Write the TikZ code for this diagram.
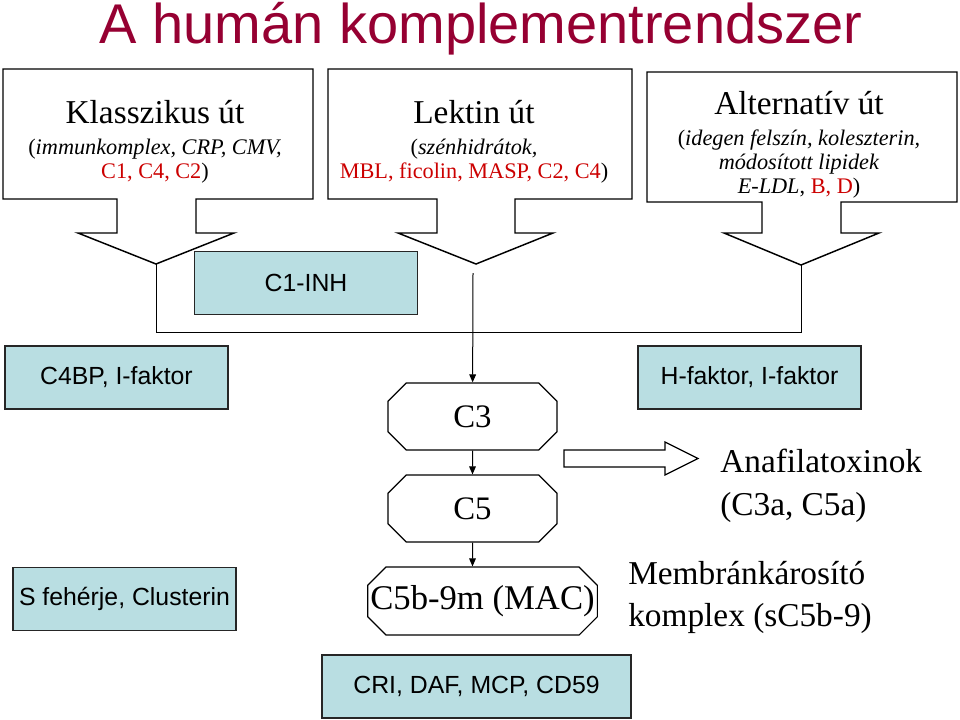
\documentclass[tikz,border=0pt]{standalone}
\usepackage{fontspec}
\setmainfont{Liberation Serif}
\setsansfont{Liberation Sans}
\usetikzlibrary{shapes.misc,arrows.meta}
\definecolor{titlered}{RGB}{150,0,50}
\definecolor{markred}{RGB}{204,0,0}
\definecolor{inhblue}{RGB}{185,222,226}

\begin{document}
\begin{tikzpicture}[x=0.75pt, y=-0.75pt,
  inh/.style={draw=black!85, line width=1.1pt, fill=inhblue, inner sep=0pt,
    minimum width=167.25pt, minimum height=47.25pt,
    font=\sffamily\fontsize{18.6}{22}\selectfont},
  stage/.style={draw, line width=0.9pt, chamfered rectangle,
    chamfered rectangle xsep=7pt, chamfered rectangle ysep=6.7pt,
    minimum width=126.75pt, minimum height=50.25pt, inner sep=0pt,
    font=\fontsize{24.6}{28}\selectfont},
  callout/.style={draw, line width=1.1pt, fill=white},
  pathtext/.style={align=center, inner sep=0pt, font=\fontsize{16.7}{18}\selectfont},
  note/.style={align=left, anchor=west, inner sep=0pt, font=\fontsize{25}{32}\selectfont},
  arr/.style={-{Triangle[length=6pt,width=5pt]}, line width=0.75pt}
]
\useasboundingbox (0,0) rectangle (960,719);

\node[anchor=base, inner sep=0pt, text=titlered, font=\sffamily\fontsize{42}{42}\selectfont]
  (title) at (481,43) {A humán komplementrendszer};

\draw[callout] (3,69) -- (313,69) -- (313,199) -- (196,199) -- (196,233) -- (234,233)
  -- (156,264) -- (78,233) -- (117,233) -- (117,199) -- (3,199) -- cycle;
\draw[callout] (328,69) -- (632,69) -- (632,199) -- (515,199) -- (515,233) -- (553,233)
  -- (476,264) -- (398,233) -- (437,233) -- (437,199) -- (328,199) -- cycle;
\draw[callout] (647,72) -- (957,72) -- (957,202) -- (841,202) -- (841,233) -- (879,233)
  -- (801,265) -- (724,233) -- (762,233) -- (762,202) -- (647,202) -- cycle;
\coordinate (ktip) at (156,264);
\coordinate (atip) at (801,265);
\coordinate (join) at (473,332);
\coordinate (lstart) at (473,273);

\node[pathtext] (klasst) at (155,141.5) {{\fontsize{25}{25}\selectfont Klasszikus út}\\[5pt]
  (\textit{immunkomplex, CRP, CMV,}\\\textcolor{markred}{C1, C4, C2})};
\node[pathtext] (lektt) at (474,141.5) {{\fontsize{25}{25}\selectfont Lektin út}\\[5pt]
  (\textit{szénhidrátok,}\\\textcolor{markred}{MBL, ficolin, MASP, C2, C4})};
\node[pathtext] (altt) at (799,144.5) {{\fontsize{25}{25}\selectfont Alternatív út}\\[5pt]
  (\textit{idegen felszín, koleszterin,}\\\textit{módosított lipidek}\\
  \textit{E-LDL}, \textcolor{markred}{B, D})};

\node[inh] (c1inh) at (306,283) {C1-INH};
\node[inh] (c4bp) at (116.5,377.5) {C4BP, I-faktor};
\node[inh] (hfak) at (749.5,377.5) {H-faktor, I-faktor};
\node[inh] (sfeh) at (124.5,599) {S fehérje, Clusterin};
\node[inh, minimum width=231.75pt] (cri) at (476.5,686.5) {CRI, DAF, MCP, CD59};

\node[stage] (c3) at (472.5,416.5) {C3};
\node[stage] (c5) at (472.5,508.5) {C5};
\node[stage, inner xsep=-5pt, minimum height=51pt, font=\fontsize{26}{28}\selectfont]
  (mac) at (482.5,601) {C5b-9m (MAC)};

\node[note] (anaf) at (720,486) {Anafilatoxinok\\(C3a, C5a)};
\node[note, font=\fontsize{25}{31.5}\selectfont] (memb) at (628,597) {Membránkárosító\\komplex (sC5b-9)};

\draw[line width=0.75pt] (ktip) |- (join) -| (atip);
\draw[arr] (lstart) -- (c3);
\draw[arr] (c3) -- (c5);
\draw[arr] (c5) -- (c5.south |- mac.north);

\draw[line width=0.9pt] (564,450) -- (665,450) -- (665,442) -- (698,458.5)
  -- (665,475) -- (665,467) -- (564,467) -- cycle;
\end{tikzpicture}
\end{document}
